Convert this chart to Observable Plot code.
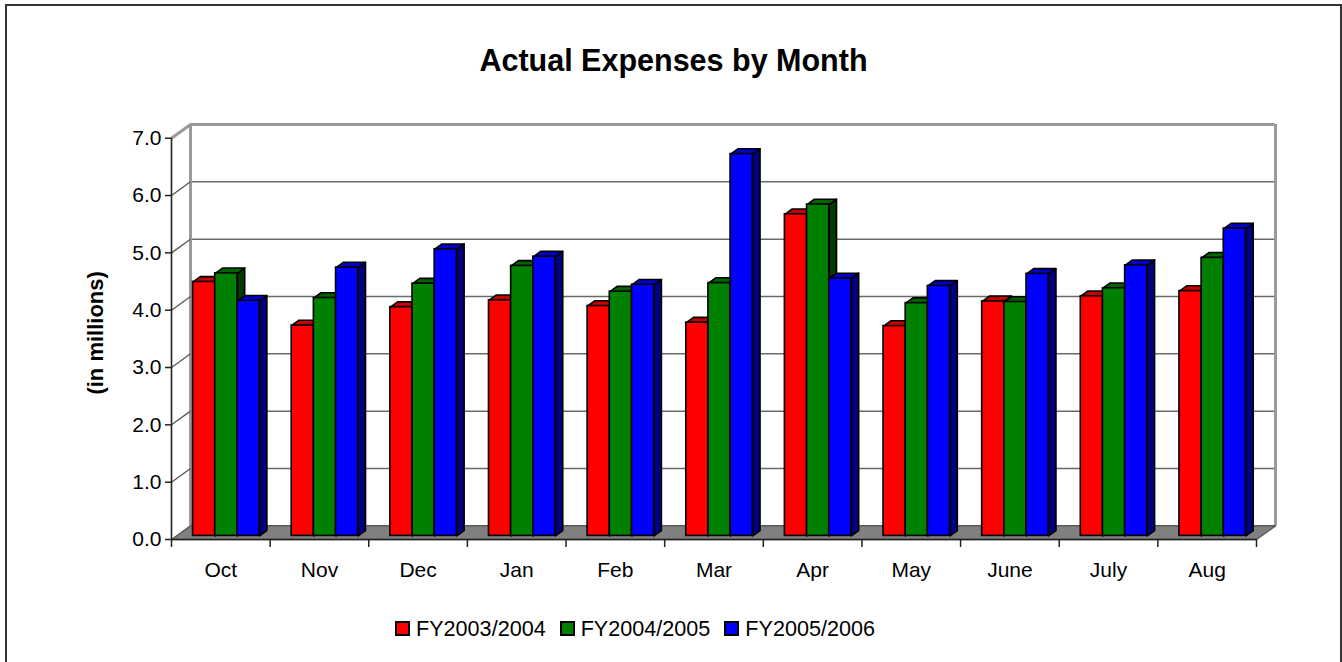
<!DOCTYPE html>
<html>
<head>
<meta charset="utf-8">
<script src="https://cdn.jsdelivr.net/npm/d3@7"></script>
<script src="https://cdn.jsdelivr.net/npm/@observablehq/plot@0.6"></script>
<style>
  html, body { margin: 0; padding: 0; background: #fff; }
  #wrap { position: relative; width: 1342px; height: 662px; overflow: hidden; background: #fff;
          font-family: "Liberation Sans", Arial, sans-serif; }
  #border { position: absolute; left: 5px; top: 4px; width: 1337px; height: 720px; box-sizing: border-box;
            border: 2px solid #333; }
  #title { position: absolute; left: 5px; top: 41px; width: 1337px; text-align: center;
           font: bold 30.5px "Liberation Sans", Arial, sans-serif; color: #000; line-height: 38px; }
  #plot { position: absolute; left: 0; top: 0; }
  #legend { position: absolute; left: 395px; top: 612px; }
  .lg-swatches { font-family: "Liberation Sans", Arial, sans-serif !important; font-size: 21.6px !important; color: #000; margin: 0 !important; }
  .lg-swatch { margin-right: 14px !important; }
  .lg-swatch > svg { margin-right: 6px !important; overflow: hidden !important; }
  .lg-swatch rect { stroke: #000; stroke-width: 4px; }
</style>
</head>
<body>
<div id="wrap">
  <div id="border"></div>
  <div id="plot"></div>
  <div id="title">Actual Expenses by Month</div>
  <div id="legend"></div>
</div>
<script>
// ---- data ----
const months = ["Oct", "Nov", "Dec", "Jan", "Feb", "Mar", "Apr", "May", "June", "July", "Aug"];
const seriesNames = ["FY2003/2004", "FY2004/2005", "FY2005/2006"];
const fy0304 = [4.43, 3.67, 3.99, 4.11, 4.01, 3.72, 5.61, 3.66, 4.09, 4.18, 4.27];
const fy0405 = [4.58, 4.15, 4.40, 4.71, 4.26, 4.41, 5.78, 4.06, 4.08, 4.32, 4.85];
const fy0506 = [4.10, 4.68, 5.00, 4.87, 4.38, 6.66, 4.49, 4.36, 4.57, 4.72, 5.36];
const yTicks = [0, 1, 2, 3, 4, 5, 6, 7];

// ---- styles ----
const frontColors = ["#ff0000", "#008000", "#0000ff"];
const topColors = ["#c80000", "#006400", "#0000c8"];
const sideColors = ["#800000", "#003c00", "#000080"];

// ---- layout ----
const W = 1342, H = 600;
const mL = 171, mR = 86, mT = 137.7, mB = 61;
const nCat = months.length, yMax = 7;
const kx = (W - mL - mR) / nCat;      // px per x unit
const ky = (H - mT - mB) / yMax;      // px per y unit
const wallPx = [19, 13.7];            // depth of the 3D box
const barShiftPx = [5, 3.6];          // bars stand mid-depth
const barDepthPx = [7.3, 5.3];        // depth of each bar
const wdx = wallPx[0] / kx, wdy = wallPx[1] / ky;
const bdx = barDepthPx[0] / kx, bdy = barDepthPx[1] / ky;
const barW = 0.2247, groupStart = 0.168;

const seriesValues = [fy0304, fy0405, fy0506];
const bars = [];
seriesValues.forEach((vals, s) => vals.forEach((v, i) => {
  const x1 = i + groupStart + s * barW;
  bars.push({month: months[i], series: seriesNames[s], s, v, x1, x2: x1 + barW});
}));

const sides = [], tops = [];
bars.forEach((b, k) => {
  [[b.x2, 0], [b.x2, b.v], [b.x2 + bdx, b.v + bdy], [b.x2 + bdx, bdy]]
    .forEach(([x, y]) => sides.push({id: k, s: b.s, x, y}));
  [[b.x1, b.v], [b.x2, b.v], [b.x2 + bdx, b.v + bdy], [b.x1 + bdx, b.v + bdy]]
    .forEach(([x, y]) => tops.push({id: k, s: b.s, x, y}));
});

const floor = [[0, 0], [nCat, 0], [nCat + wdx, wdy], [wdx, wdy]].map(([x, y]) => ({x, y}));

const barOpts = {dx: barShiftPx[0], dy: -barShiftPx[1]};
const faceMarks = (pts, colors) => colors.map((c, s) =>
  Plot.line(pts.filter(d => d.s === s), {x: "x", y: "y", z: "id", curve: "linear-closed",
    fill: c, stroke: "#000", strokeWidth: 1.6, strokeLinejoin: "round", ...barOpts}));

const chart = Plot.plot({
  width: W, height: H,
  marginLeft: mL, marginRight: mR, marginTop: mT, marginBottom: mB,
  x: {domain: [0, nCat], label: null},
  y: {domain: [0, yMax], label: null},
  color: {domain: seriesNames, range: frontColors},
  style: {fontFamily: "'Liberation Sans', Arial, sans-serif", fontSize: "21px", color: "#000", background: "transparent", overflow: "visible"},
  marks: [
    // back wall gridlines
    Plot.ruleY(yTicks.filter(d => d > 0 && d < yMax), {dx: wallPx[0], dy: -wallPx[1], stroke: "#6a6a6a", strokeWidth: 1.5, strokeOpacity: 1}),
    // back wall outline
    Plot.ruleY([yMax], {dx: wallPx[0], dy: -wallPx[1], stroke: "#9a9a9a", strokeWidth: 3, strokeOpacity: 1}),
    Plot.ruleX([0, nCat], {y1: 0, y2: yMax, dx: wallPx[0], dy: -wallPx[1], stroke: "#9a9a9a", strokeWidth: 3, strokeOpacity: 1}),
    // left wall diagonals
    Plot.link(yTicks.filter(d => d > 0), {x1: 0, x2: wdx, y1: d => d, y2: d => d + wdy, stroke: d => d === yMax ? "#9a9a9a" : "#555", strokeWidth: d => d === yMax ? 3 : 1.3}),
    // floor
    Plot.line(floor, {x: "x", y: "y", curve: "linear-closed", fill: "#808080", stroke: "#5a5a5a", strokeWidth: 1.5}),
    // bars: sides, tops, fronts
    ...faceMarks(sides, sideColors),
    ...faceMarks(tops, topColors),
    Plot.rect(bars, {x1: "x1", x2: "x2", y1: 0, y2: "v", fill: "series", stroke: "#000", strokeWidth: 1.6, ...barOpts}),
    // front axes
    Plot.ruleX([0], {y1: 0, y2: yMax, stroke: "#222", strokeWidth: 1.6}),
    Plot.ruleY([0], {x1: 0, x2: nCat, stroke: "#222", strokeWidth: 1.6}),
    Plot.axisY(yTicks, {tickSize: 6, tickPadding: 4, tickFormat: d3.format(".1f"), stroke: "#222", strokeWidth: 1.5, label: null}),
    Plot.axisX(d3.range(nCat + 1), {tickSize: 8, tickFormat: () => "", stroke: "#222", strokeWidth: 1.5, label: null}),
    Plot.axisX(d3.range(nCat).map(i => i + 0.5), {tickSize: 0, tickPadding: 23, tickFormat: d => months[Math.floor(d)], label: null}),
    // y axis title
    Plot.text(["(in millions)"], {frameAnchor: "left", textAnchor: "middle", lineAnchor: "middle", rotate: -90, dx: -76, dy: -6, fontWeight: "bold", fontSize: 22})
  ]
});
document.getElementById("plot").appendChild(chart);
document.getElementById("legend").appendChild(chart.legend("color", {className: "lg", swatchSize: 15}));
</script>
</body>
</html>
